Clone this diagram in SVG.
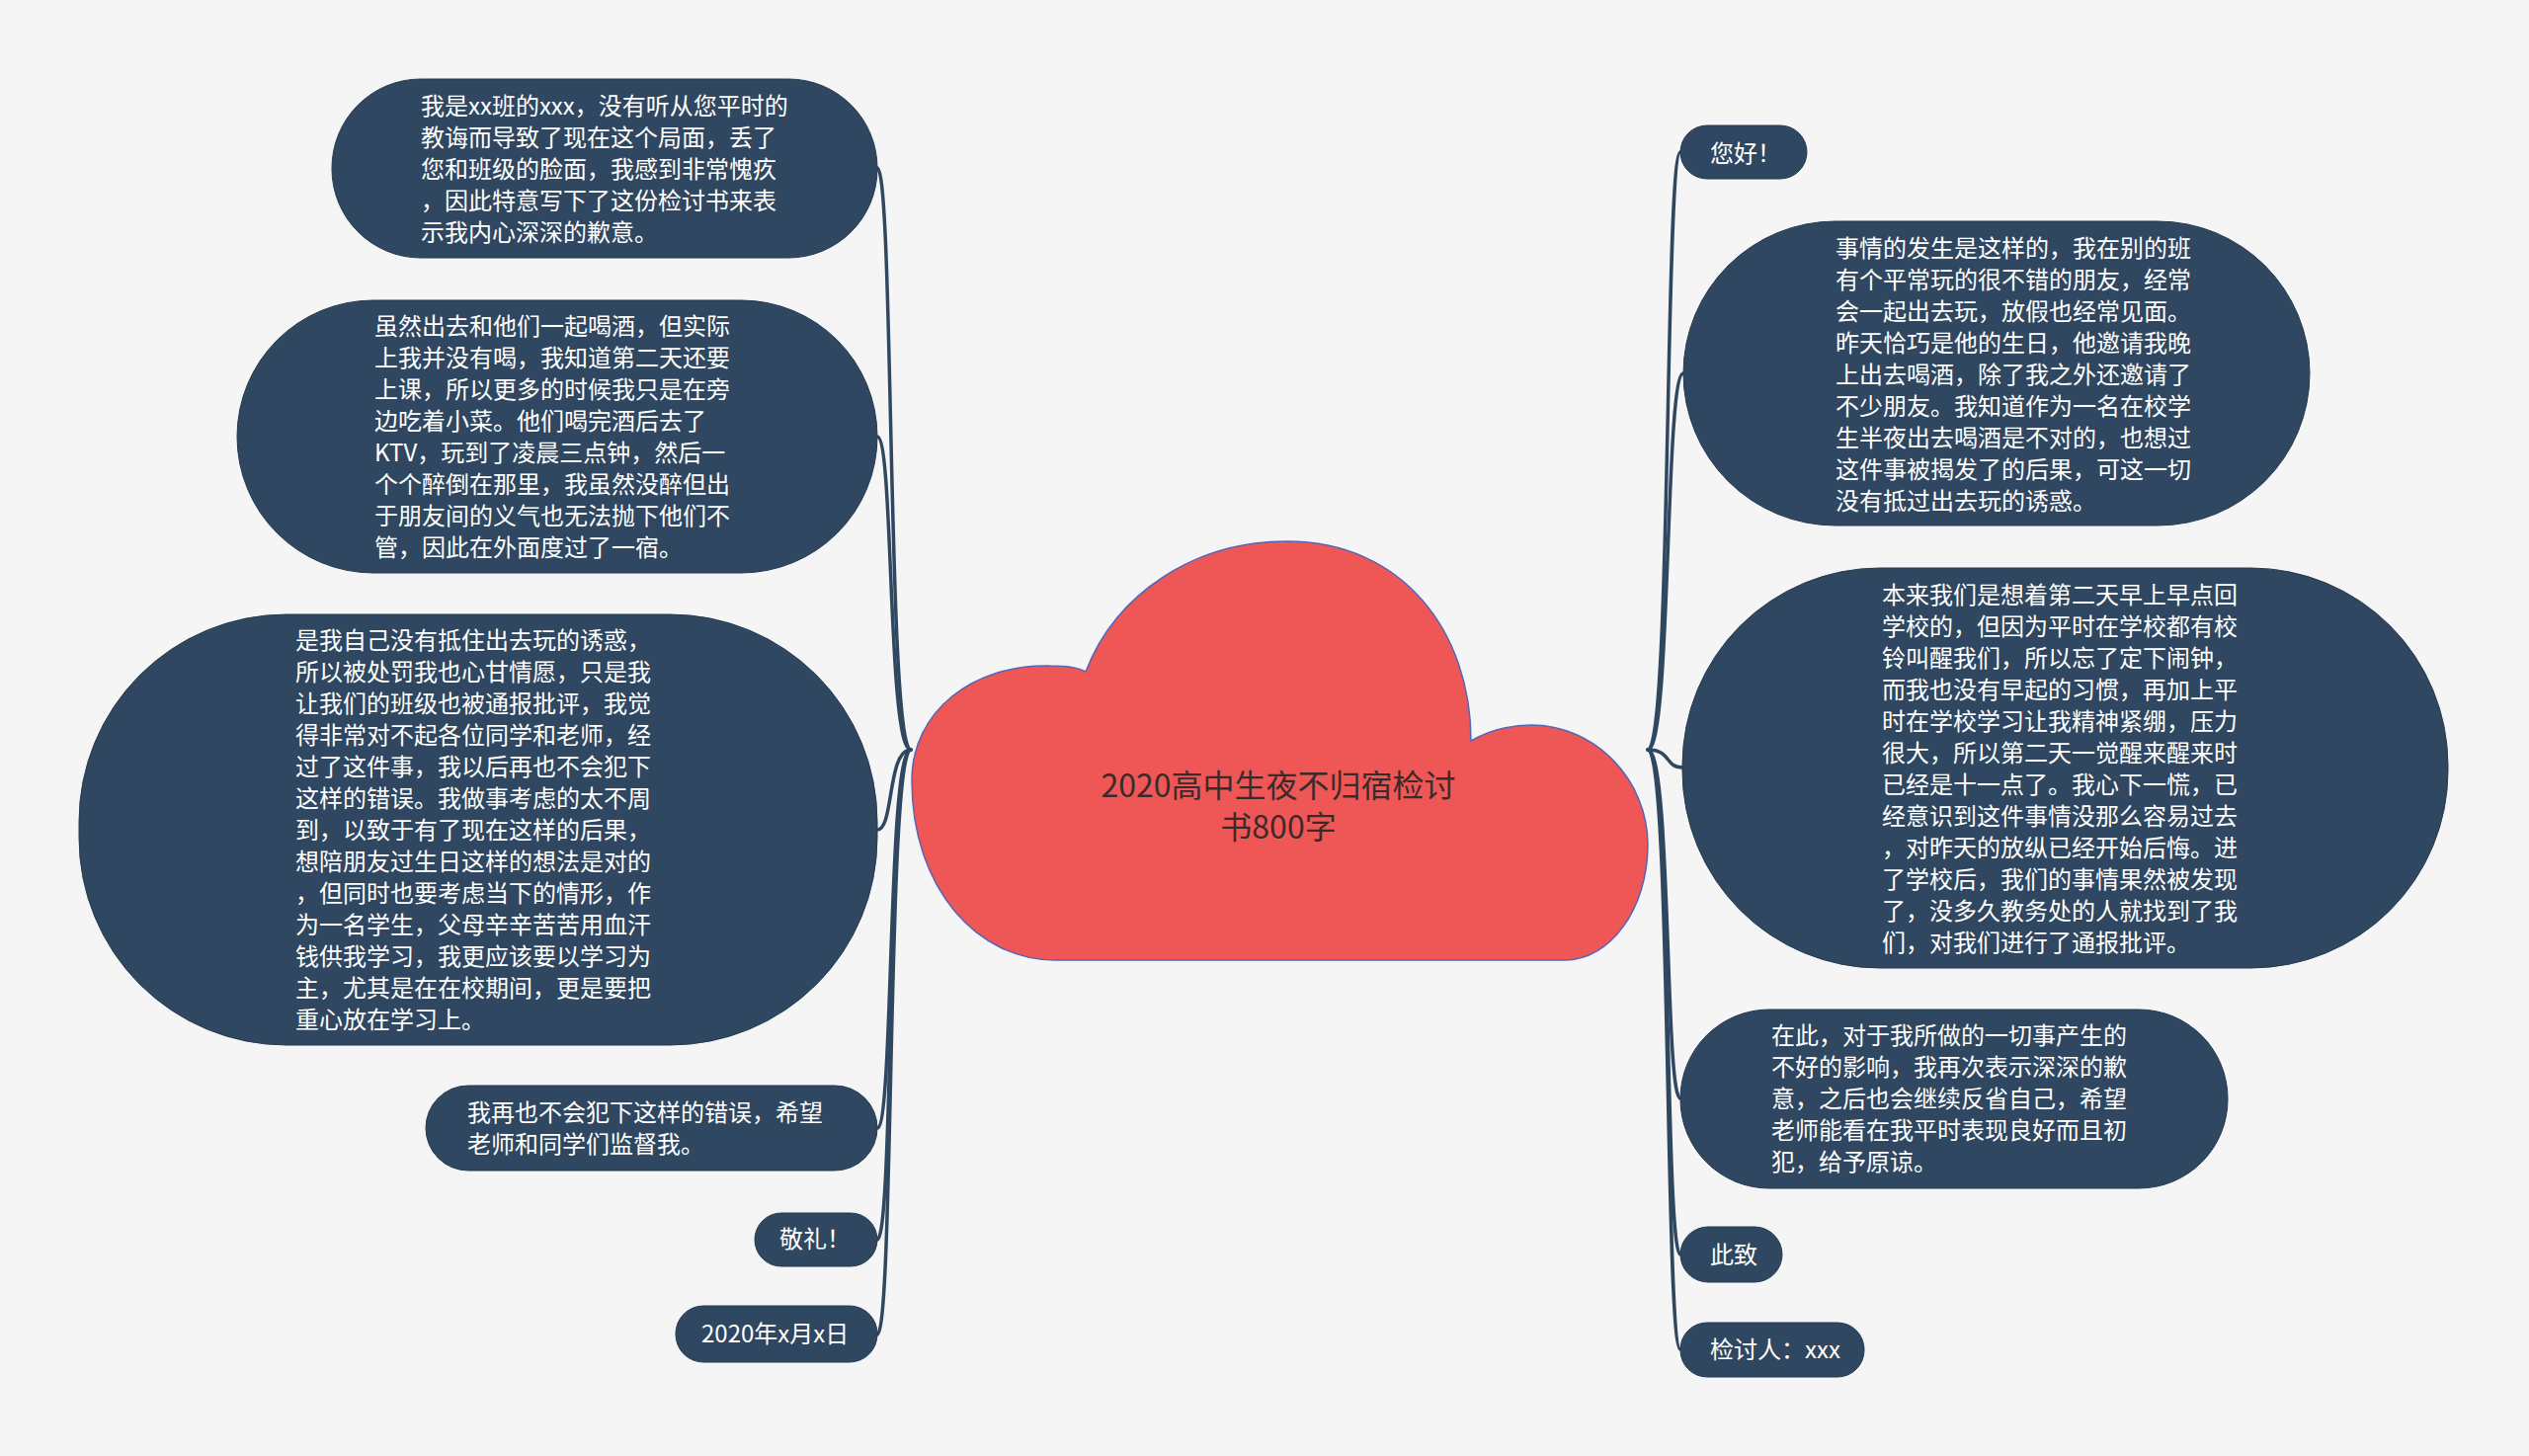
<svg xmlns="http://www.w3.org/2000/svg" width="2560" height="1474" viewBox="0 0 2560 1474">
<style>
.bg{fill:#f5f5f5}
.node{fill:#2f4760;stroke:#263a50;stroke-width:1}
.t{font-family:"Noto Sans CJK SC","Noto Sans",sans-serif;font-size:24px;fill:#ffffff}
.conn{fill:none;stroke:#2f4760;stroke-width:3.5;stroke-linecap:round}
.root{fill:#ef5656;stroke:#5566b8;stroke-width:1.5}
.rt{font-family:"Noto Sans CJK SC","Noto Sans",sans-serif;font-size:32px;fill:#3a2b2b;text-anchor:middle}
</style>
<rect class="bg" x="0" y="0" width="2560" height="1474"/>
<g id="connectors">
<path class="conn" d="M922 759 C898 759 905 170 888 170"/>
<path class="conn" d="M922 759 C898 759 905 442 888 442"/>
<path class="conn" d="M922 759 C898 759 905 840 888 840"/>
<path class="conn" d="M922 759 C898 759 905 1142 888 1142"/>
<path class="conn" d="M922 759 C898 759 905 1255 888 1255"/>
<path class="conn" d="M922 759 C898 759 905 1351 888 1351"/>
<path class="conn" d="M1668 759 C1692 759 1685 154 1701 154"/>
<path class="conn" d="M1668 759 C1692 759 1685 378 1704 378"/>
<path class="conn" d="M1668 759 C1692 759 1685 777 1703 777"/>
<path class="conn" d="M1668 759 C1692 759 1685 1112 1701 1112"/>
<path class="conn" d="M1668 759 C1692 759 1685 1270 1701 1270"/>
<path class="conn" d="M1668 759 C1692 759 1685 1366 1701 1366"/>
</g>
<g id="root">
<path class="root" d="M1068 972 C990 972 923 900 923 790 C923 720 985 672 1063 674 C1080 674 1092 676 1099 680 C1130 600 1210 548 1303 548 C1420 548 1489 640 1489 750 C1510 738 1530 734 1550 734 C1615 734 1668 790 1668 855 C1668 920 1630 972 1584 972 Z"/>
<text class="rt" x="1294" y="807">2020高中生夜不归宿检讨</text>
<text class="rt" x="1294" y="849">书800字</text>
</g>
<g id="L1">
<rect class="node" x="336" y="80" width="552" height="181" rx="90"/>
<text class="t" x="426" y="116"><tspan x="426">我是xx班的xxx，没有听从您平时的</tspan><tspan x="426" dy="32">教诲而导致了现在这个局面，丢了</tspan><tspan x="426" dy="32">您和班级的脸面，我感到非常愧疚</tspan><tspan x="426" dy="32">，因此特意写下了这份检讨书来表</tspan><tspan x="426" dy="32">示我内心深深的歉意。</tspan></text>
</g>
<g id="L2">
<rect class="node" x="240" y="304" width="648" height="276" rx="138"/>
<text class="t" x="379" y="339"><tspan x="379">虽然出去和他们一起喝酒，但实际</tspan><tspan x="379" dy="32">上我并没有喝，我知道第二天还要</tspan><tspan x="379" dy="32">上课，所以更多的时候我只是在旁</tspan><tspan x="379" dy="32">边吃着小菜。他们喝完酒后去了</tspan><tspan x="379" dy="32">KTV，玩到了凌晨三点钟，然后一</tspan><tspan x="379" dy="32">个个醉倒在那里，我虽然没醉但出</tspan><tspan x="379" dy="32">于朋友间的义气也无法抛下他们不</tspan><tspan x="379" dy="32">管，因此在外面度过了一宿。</tspan></text>
</g>
<g id="L3">
<rect class="node" x="80" y="622" width="808" height="436" rx="210"/>
<text class="t" x="299" y="657"><tspan x="299">是我自己没有抵住出去玩的诱惑，</tspan><tspan x="299" dy="32">所以被处罚我也心甘情愿，只是我</tspan><tspan x="299" dy="32">让我们的班级也被通报批评，我觉</tspan><tspan x="299" dy="32">得非常对不起各位同学和老师，经</tspan><tspan x="299" dy="32">过了这件事，我以后再也不会犯下</tspan><tspan x="299" dy="32">这样的错误。我做事考虑的太不周</tspan><tspan x="299" dy="32">到，以致于有了现在这样的后果，</tspan><tspan x="299" dy="32">想陪朋友过生日这样的想法是对的</tspan><tspan x="299" dy="32">，但同时也要考虑当下的情形，作</tspan><tspan x="299" dy="32">为一名学生，父母辛辛苦苦用血汗</tspan><tspan x="299" dy="32">钱供我学习，我更应该要以学习为</tspan><tspan x="299" dy="32">主，尤其是在在校期间，更是要把</tspan><tspan x="299" dy="32">重心放在学习上。</tspan></text>
</g>
<g id="L4">
<rect class="node" x="431" y="1099" width="457" height="86" rx="43"/>
<text class="t" x="473" y="1135"><tspan x="473">我再也不会犯下这样的错误，希望</tspan><tspan x="473" dy="32">老师和同学们监督我。</tspan></text>
</g>
<g id="L5">
<rect class="node" x="764" y="1228" width="124" height="54" rx="27"/>
<text class="t" x="789" y="1263">敬礼！</text>
</g>
<g id="L6">
<rect class="node" x="684" y="1322" width="204" height="57" rx="28"/>
<text class="t" x="710" y="1359">2020年x月x日</text>
</g>
<g id="R1">
<rect class="node" x="1701" y="127" width="128" height="54" rx="27"/>
<text class="t" x="1731" y="164">您好！</text>
</g>
<g id="R2">
<rect class="node" x="1704" y="224" width="634" height="308" rx="154"/>
<text class="t" x="1858" y="260"><tspan x="1858">事情的发生是这样的，我在别的班</tspan><tspan x="1858" dy="32">有个平常玩的很不错的朋友，经常</tspan><tspan x="1858" dy="32">会一起出去玩，放假也经常见面。</tspan><tspan x="1858" dy="32">昨天恰巧是他的生日，他邀请我晚</tspan><tspan x="1858" dy="32">上出去喝酒，除了我之外还邀请了</tspan><tspan x="1858" dy="32">不少朋友。我知道作为一名在校学</tspan><tspan x="1858" dy="32">生半夜出去喝酒是不对的，也想过</tspan><tspan x="1858" dy="32">这件事被揭发了的后果，可这一切</tspan><tspan x="1858" dy="32">没有抵过出去玩的诱惑。</tspan></text>
</g>
<g id="R3">
<rect class="node" x="1703" y="575" width="775" height="405" rx="200"/>
<text class="t" x="1905" y="611"><tspan x="1905">本来我们是想着第二天早上早点回</tspan><tspan x="1905" dy="32">学校的，但因为平时在学校都有校</tspan><tspan x="1905" dy="32">铃叫醒我们，所以忘了定下闹钟，</tspan><tspan x="1905" dy="32">而我也没有早起的习惯，再加上平</tspan><tspan x="1905" dy="32">时在学校学习让我精神紧绷，压力</tspan><tspan x="1905" dy="32">很大，所以第二天一觉醒来醒来时</tspan><tspan x="1905" dy="32">已经是十一点了。我心下一慌，已</tspan><tspan x="1905" dy="32">经意识到这件事情没那么容易过去</tspan><tspan x="1905" dy="32">，对昨天的放纵已经开始后悔。进</tspan><tspan x="1905" dy="32">了学校后，我们的事情果然被发现</tspan><tspan x="1905" dy="32">了，没多久教务处的人就找到了我</tspan><tspan x="1905" dy="32">们，对我们进行了通报批评。</tspan></text>
</g>
<g id="R4">
<rect class="node" x="1701" y="1022" width="554" height="181" rx="90"/>
<text class="t" x="1793" y="1057"><tspan x="1793">在此，对于我所做的一切事产生的</tspan><tspan x="1793" dy="32">不好的影响，我再次表示深深的歉</tspan><tspan x="1793" dy="32">意，之后也会继续反省自己，希望</tspan><tspan x="1793" dy="32">老师能看在我平时表现良好而且初</tspan><tspan x="1793" dy="32">犯，给予原谅。</tspan></text>
</g>
<g id="R5">
<rect class="node" x="1701" y="1242" width="103" height="56" rx="28"/>
<text class="t" x="1731" y="1279">此致</text>
</g>
<g id="R6">
<rect class="node" x="1701" y="1339" width="186" height="55" rx="27"/>
<text class="t" x="1731" y="1375">检讨人：xxx</text>
</g>
</svg>
